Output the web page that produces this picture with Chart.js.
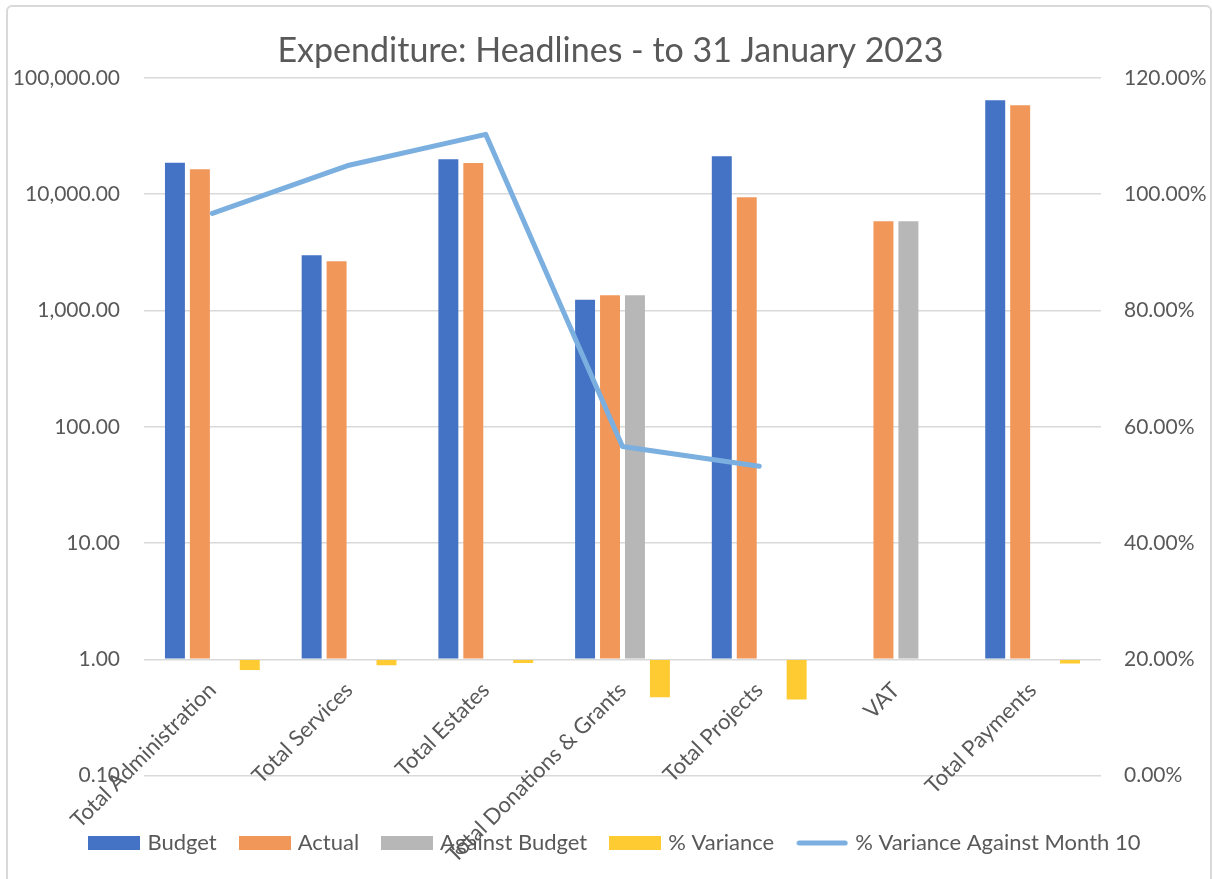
<!DOCTYPE html>
<html>
<head>
<meta charset="utf-8">
<script src="https://cdn.jsdelivr.net/npm/chart.js@4"></script>
<style>
  html, body { margin: 0; padding: 0; background: #ffffff; overflow: hidden; }
  #wrap { position: relative; width: 1213px; height: 879px; }
  #frame { position: absolute; left: 6px; top: 5px; width: 1202px; height: 890px; border: 2px solid #D9D9D9; border-radius: 6px; pointer-events: none; }
  canvas { position: absolute; left: 0; top: 0; }
</style>
</head>
<body>
<div id="wrap">
  <canvas id="c" width="1213" height="879"></canvas>
  <div id="frame"></div>
</div>
<script>
const categories = ['Total Administration', 'Total Services', 'Total Estates', 'Total Donations & Grants', 'Total Projects', 'VAT', 'Total Payments'];
const budget = [18700, 2990, 20000, 1240, 21200, null, 64300];
const actual = [16400, 2650, 18600, 1350, 9420, 5860, 58200];
const againstBudget = [null, null, null, 1350, null, 5860, null];
const variance = [0.81, 0.89, 0.93, 0.47, 0.45, null, 0.92];
const varianceMonth10 = [96.7, 105.0, 110.3, 56.6, 53.2, null, null];

const leftTickValues = [0.1, 1, 10, 100, 1000, 10000, 100000];
const leftTickLabels = ['0.10', '1.00', '10.00', '100.00', '1,000.00', '10,000.00', '100,000.00'];
const rightTickLabels = ['0.00%', '20.00%', '40.00%', '60.00%', '80.00%', '100.00%', '120.00%'];

const seriesNames = ['Budget', 'Actual', 'Against Budget', '% Variance', '% Variance Against Month 10'];
const colors = ['#4472C4', '#F1975A', '#B7B7B7', '#FFCB33', '#7BAFDF'];

function boxIcon(color) {
  const c = document.createElement('canvas');
  c.width = 52; c.height = 14;
  const x = c.getContext('2d');
  x.fillStyle = color; x.fillRect(0, 0, 52, 14);
  return c;
}
function lineIcon(color) {
  const c = document.createElement('canvas');
  c.width = 52; c.height = 14;
  const x = c.getContext('2d');
  x.strokeStyle = color; x.lineWidth = 5; x.lineCap = 'round';
  x.beginPath(); x.moveTo(3, 7); x.lineTo(49, 7); x.stroke();
  return c;
}
const legendIcons = [boxIcon(colors[0]), boxIcon(colors[1]), boxIcon(colors[2]), boxIcon(colors[3]), lineIcon(colors[4])];

Chart.defaults.font.family = 'Lato, "Open Sans", sans-serif';
Chart.defaults.color = '#595959';

const barCommon = { base: 1, categoryPercentage: 0.73, barPercentage: 0.8, order: 1, yAxisID: 'y', xAxisID: 'x' };

const shiftBoxes = {
  id: 'shiftBoxes',
  afterLayout(chart) {
    if (chart.legend) { chart.legend.left += 10; chart.legend.right += 10; }
    if (chart.titleBlock) { chart.titleBlock.left += 4; chart.titleBlock.right += 4; }
  }
};

new Chart(document.getElementById('c'), {
  type: 'bar',
  plugins: [shiftBoxes],
  data: {
    labels: categories,
    datasets: [
      Object.assign({ label: seriesNames[0], data: budget, backgroundColor: colors[0] }, barCommon),
      Object.assign({ label: seriesNames[1], data: actual, backgroundColor: colors[1] }, barCommon),
      Object.assign({ label: seriesNames[2], data: againstBudget, backgroundColor: colors[2] }, barCommon),
      Object.assign({ label: seriesNames[3], data: variance, backgroundColor: colors[3] }, barCommon),
      {
        type: 'line', label: seriesNames[4], data: varianceMonth10, yAxisID: 'y1', xAxisID: 'x',
        borderColor: colors[4], backgroundColor: colors[4], borderWidth: 5, pointRadius: 0,
        tension: 0, spanGaps: false, borderCapStyle: 'round', borderJoinStyle: 'round', order: 0
      }
    ]
  },
  options: {
    responsive: false,
    animation: false,
    layout: { padding: { top: 0, left: 0, right: 0, bottom: 15 } },
    plugins: {
      title: {
        display: true,
        text: 'Expenditure: Headlines - to 31 January 2023',
        color: '#595959',
        font: { size: 34, weight: 'normal' },
        padding: { top: 30.6, bottom: 6.6 }
      },
      legend: {
        position: 'bottom',
        labels: {
          usePointStyle: true,
          pointStyleWidth: 44,
          boxHeight: 14,
          padding: 26,
          color: '#595959',
          font: { size: 22 },
          sort: (a, b) => a.datasetIndex - b.datasetIndex,
          generateLabels(chart) {
            const items = Chart.defaults.plugins.legend.labels.generateLabels(chart);
            items.forEach(it => { it.pointStyle = legendIcons[it.datasetIndex]; });
            return items;
          }
        }
      },
      tooltip: { enabled: false }
    },
    scales: {
      x: {
        type: 'category',
        position: { y: 1 },
        offset: true,
        grid: { display: false, drawTicks: false },
        border: { display: false },
        ticks: { minRotation: 45, maxRotation: 45, autoSkip: false, padding: 18, color: '#595959', font: { size: 22 } }
      },
      x2: {
        type: 'category',
        position: 'bottom',
        offset: true,
        grid: { display: false, drawTicks: false },
        border: { display: false },
        ticks: { display: false },
        afterFit: (s) => { s.height = 30.5; }
      },
      y: {
        type: 'logarithmic',
        position: 'left',
        min: 0.1,
        max: 100000,
        grid: { color: '#D9D9D9', lineWidth: 1.5, drawTicks: false },
        border: { display: false },
        afterBuildTicks: (axis) => { axis.ticks = leftTickValues.map(v => ({ value: v })); },
        ticks: {
          padding: 24,
          color: '#595959',
          font: { size: 21 },
          callback: (v) => leftTickLabels[leftTickValues.indexOf(v)]
        },
        afterFit: (s) => { s.width = 144; }
      },
      y1: {
        type: 'linear',
        position: 'right',
        min: 0,
        max: 120,
        grid: { drawOnChartArea: false, drawTicks: false },
        border: { display: false },
        ticks: {
          stepSize: 20,
          padding: 23,
          color: '#595959',
          font: { size: 21 },
          callback: (v) => rightTickLabels[Math.round(v / 20)]
        },
        afterFit: (s) => { s.width = 112; }
      }
    }
  }
});
</script>
</body>
</html>
